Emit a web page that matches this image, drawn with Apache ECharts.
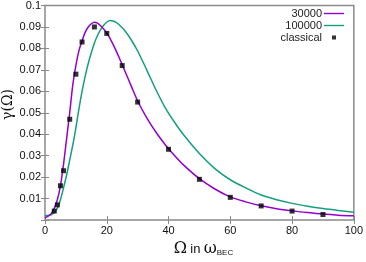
<!DOCTYPE html>
<html>
<head>
<meta charset="utf-8">
<script src="https://cdn.jsdelivr.net/npm/echarts@6/dist/echarts.min.js"></script>
<style>
  html, body { margin: 0; padding: 0; background: #fff; }
  #chart { width: 366px; height: 262px; }
</style>
</head>
<body>
<div id="chart"></div>
<script>
// Omega grid (in units of omega_BEC) shared by both curves
const omegaGrid = [0, 1, 2, 3, 4, 5, 6, 7, 8, 9, 10, 11, 12, 13, 14, 15, 16, 17, 18, 19, 20,
  21, 22, 23, 24, 26, 28, 30, 33, 36, 39, 42, 45, 50, 55, 60, 65, 70, 75, 80, 85, 90, 95, 100]

// gamma(Omega) for N = 30000
const gamma30000 = [0.001, 0.0018, 0.003, 0.0055, 0.0095, 0.016, 0.026, 0.038, 0.050, 0.063, 0.072,
  0.079, 0.0835, 0.0875, 0.0900, 0.0915, 0.0922, 0.0918, 0.0906, 0.089, 0.0872,
  0.0848, 0.082, 0.0790, 0.0758, 0.0690, 0.0622, 0.0555, 0.0475, 0.0408, 0.0350, 0.030, 0.0255,
  0.0193, 0.0145, 0.0108, 0.0085, 0.0067, 0.0053, 0.0043, 0.0035, 0.0028, 0.0023, 0.002]

// gamma(Omega) for N = 100000
const gamma100000 = [0.0022, 0.0022, 0.0025, 0.0035, 0.0055, 0.0095, 0.015, 0.021, 0.028, 0.035, 0.043,
  0.052, 0.060, 0.067, 0.073, 0.078, 0.0825, 0.086, 0.0888, 0.0908, 0.0922,
  0.093, 0.0928, 0.0921, 0.091, 0.088, 0.0838, 0.0788, 0.0698, 0.0605, 0.0522, 0.0455, 0.0395,
  0.031, 0.024, 0.0188, 0.015, 0.0117, 0.0095, 0.0078, 0.0065, 0.0054, 0.0045, 0.0037]

// classical points
const classicalOmega = [3, 4, 5, 6, 8, 10, 12, 16, 20, 25, 30, 40, 50, 60, 70, 80, 90]
const classicalGamma = [0.0042, 0.0071, 0.016, 0.023, 0.047, 0.068, 0.083, 0.090, 0.087, 0.072,
  0.055, 0.033, 0.019, 0.0106, 0.0066, 0.0042, 0.0026]

const xTicks = { min: 0, max: 100, step: 20 }
const yTicks = { min: 0, max: 0.1, step: 0.01 }
const seriesNames = ['30000', '100000', 'classical']

const zip = (xs, ys) => xs.map((x, i) => [x, ys[i]])

const axisGray = '#8a8a8a'
const labelFont = 'Liberation Sans, Arial, sans-serif'
// legend icons: the leading moves fix the bounding box so the marks keep their size
const lineIcon = 'path://M0,0M20,9M0,3.8H20V5.2H0Z'
const dotIcon = 'path://M0,0M20,9M8,2.5H12V6.5H8Z'

let myChart = echarts.init(document.getElementById('chart'))

const baseX = {
  type: 'value', min: xTicks.min, max: xTicks.max, interval: xTicks.step,
  axisLine: { show: false },
  axisTick: { inside: true, length: 4, lineStyle: { color: axisGray } },
  splitLine: { show: false }
}
const baseY = {
  type: 'value', min: yTicks.min, max: yTicks.max, interval: yTicks.step,
  axisLine: { show: false },
  axisTick: { inside: true, length: 4, lineStyle: { color: axisGray } },
  splitLine: { show: false }
}

const option = {
  animation: false,
  textStyle: { fontFamily: labelFont },
  grid: {
    left: 45, right: 9, top: 4, bottom: 29,
    show: true, borderColor: axisGray, borderWidth: 1.5, backgroundColor: 'transparent'
  },
  legend: {
    data: [
      { name: seriesNames[0], icon: lineIcon },
      { name: seriesNames[1], icon: lineIcon },
      { name: seriesNames[2], icon: dotIcon, itemStyle: { color: '#000' } }
    ],
    orient: 'vertical', align: 'right',
    right: 17, top: 3,
    itemWidth: 20, itemHeight: 9, itemGap: 1,
    textStyle: { fontSize: 11, color: '#222', padding: [0, -3, 0, 0] }
  },
  xAxis: [
    Object.assign({}, baseX, {
      position: 'bottom',
      axisLabel: { fontSize: 11, color: '#111', margin: 5 },
      name: '{big|Ω} {mid|in} {big|ω}{sub|BEC}',
      nameLocation: 'middle', nameGap: 19,
      nameTextStyle: {
        padding: [0, 0, 0, 8],
        rich: {
          big: { fontSize: 16, fontFamily: 'DejaVu Serif, serif', color: '#111' },
          mid: { fontSize: 13, color: '#111' },
          sub: { fontSize: 8, color: '#111', verticalAlign: 'bottom', padding: [6, 0, 0, 0] }
        }
      }
    }),
    Object.assign({}, baseX, { position: 'top', axisLabel: { show: false } })
  ],
  yAxis: [
    Object.assign({}, baseY, {
      position: 'left',
      axisLabel: {
        fontSize: 11, color: '#111', margin: 4,
        formatter: v => (v === 0 ? '' : String(parseFloat(v.toFixed(2))))
      }
    }),
    Object.assign({}, baseY, { position: 'right', axisLabel: { show: false } })
  ],
  graphic: [{
    type: 'text', left: 1, top: 89, rotation: Math.PI / 2,
    style: { text: 'γ(Ω)', font: '14px DejaVu Serif, serif', fill: '#111' }
  }],
  series: [
    {
      name: seriesNames[0], type: 'line', data: zip(omegaGrid, gamma30000),
      symbol: 'none', smooth: 0.3, lineStyle: { color: '#9400d3', width: 1.5 },
      itemStyle: { color: '#9400d3' }, z: 3
    },
    {
      name: seriesNames[1], type: 'line', data: zip(omegaGrid, gamma100000),
      symbol: 'none', smooth: 0.3, lineStyle: { color: '#12a07e', width: 1.5 },
      itemStyle: { color: '#12a07e' }, z: 2
    },
    {
      name: seriesNames[2], type: 'scatter', data: zip(classicalOmega, classicalGamma),
      symbol: 'rect', symbolSize: 5, itemStyle: { color: '#000' }, z: 4
    }
  ]
}

myChart.setOption(option)
</script>
</body>
</html>
